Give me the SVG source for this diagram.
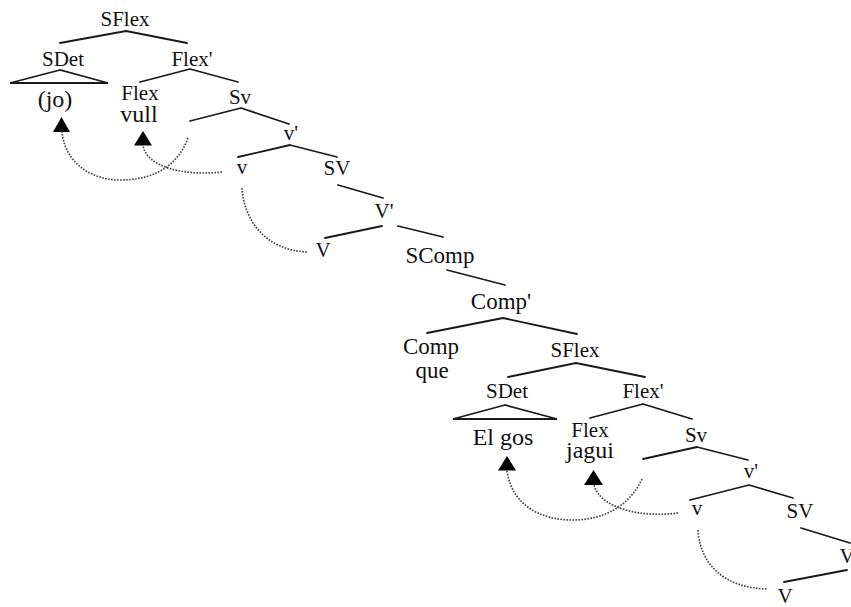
<svg xmlns="http://www.w3.org/2000/svg" width="851" height="607" viewBox="0 0 851 607">
<style>
text{font-family:"Liberation Serif","Times New Roman",serif;font-size:21px;fill:#111;text-anchor:middle}
.lex{font-size:24px}
.big{font-size:23px}
.br{fill:none;stroke:#1a1a1a;stroke-width:1.8;stroke-linecap:round;stroke-linejoin:round}
.tri{fill:none;stroke:#1a1a1a;stroke-width:1.8;stroke-linejoin:miter}
.mv{fill:none;stroke:#444;stroke-width:1.7;stroke-dasharray:1.6 1.4}
.ah{fill:#000}
</style>
<rect width="851" height="607" fill="#fff"/>
<g id="connectors">
<polyline class="br" points="60,43 126,31 187,43"/>
<polyline class="br" points="140,82 190,69 238,82"/>
<polyline class="br" points="190,121 241,108 289,124"/>
<polyline class="br" points="238,157 290,145 337,157"/>
<line class="br" x1="338" y1="185" x2="383" y2="198"/>
<line class="br" x1="325" y1="238" x2="382" y2="226"/>
<line class="br" x1="398" y1="226" x2="443" y2="237"/>
<line class="br" x1="447" y1="270" x2="505" y2="285"/>
<polyline class="br" points="427,333 503,318 577,334"/>
<polyline class="br" points="508,377 576,363 645,377"/>
<polyline class="br" points="590,418 643,404 692,419"/>
<polyline class="br" points="643,459 697,447 748,460"/>
<polyline class="br" points="690,500 749,485 793,498"/>
<line class="br" x1="801" y1="528" x2="850" y2="543"/>
<line class="br" x1="784" y1="582" x2="847" y2="570"/>
<path class="mv" d="M188,138 C178,165 155,180 120,180 C90,180 65,162 62,132"/>
<path class="mv" d="M222,172 C185,176 148,168 143,146"/>
<path class="mv" d="M242,188 C244,220 265,250 307,252"/>
<path class="mv" d="M642,479 C630,505 605,520 573,520 C540,520 512,505 507,471"/>
<path class="mv" d="M678,513 C640,518 600,508 594,485"/>
<path class="mv" d="M698,530 C700,565 725,588 767,589"/>
<polygon class="ah" points="61.5,117 53,132 70,132"/>
<polygon class="ah" points="143,131 134,145.5 152,145.5"/>
<polygon class="ah" points="507,456 498,470.5 516,470.5"/>
<polygon class="ah" points="593.5,470 584,485 603,485"/>
</g>
<g id="n-sflex"><text x="125" y="26">SFlex</text></g>
<g id="n-sdet"><text x="63" y="66">SDet</text><polygon class="tri" points="60,70 10,83 108,83"/></g>
<g id="n-flexbar"><text x="192" y="66">Flex'</text></g>
<g id="n-jo"><text class="lex" x="55" y="107">(jo)</text></g>
<g id="n-flex"><text x="140" y="100">Flex</text><text class="lex" x="139" y="122">vull</text></g>
<g id="n-sv"><text x="240" y="104">Sv</text></g>
<g id="n-vbar"><text x="291" y="140">v'</text></g>
<g id="n-v"><text x="242" y="174">v</text></g>
<g id="n-SV"><text x="337" y="175">SV</text></g>
<g id="n-Vbar"><text x="384" y="218">V'</text></g>
<g id="n-V"><text x="323" y="257">V</text></g>
<g id="n-scomp"><text class="big" x="440" y="263">SComp</text></g>
<g id="n-compbar"><text class="big" x="501" y="309">Comp'</text></g>
<g id="n-comp"><text class="big" x="431" y="354">Comp</text><text class="big" x="432" y="378">que</text></g>
<g id="n-sflex2"><text x="575" y="357">SFlex</text></g>
<g id="n-sdet2"><text x="507" y="398">SDet</text><polygon class="tri" points="505,405 453,419 557,419"/></g>
<g id="n-flexbar2"><text x="643" y="398">Flex'</text></g>
<g id="n-elgos"><text class="lex" x="503" y="445">El gos</text></g>
<g id="n-flex2"><text x="590" y="437">Flex</text><text class="lex" x="590" y="458">jagui</text></g>
<g id="n-sv2"><text x="696" y="442">Sv</text></g>
<g id="n-vbar2"><text x="751" y="478">v'</text></g>
<g id="n-v2"><text x="697" y="515">v</text></g>
<g id="n-SV2"><text x="800" y="518">SV</text></g>
<g id="n-Vbar2"><text x="849" y="563">V'</text></g>
<g id="n-V2"><text x="785" y="603">V</text></g>
</svg>
